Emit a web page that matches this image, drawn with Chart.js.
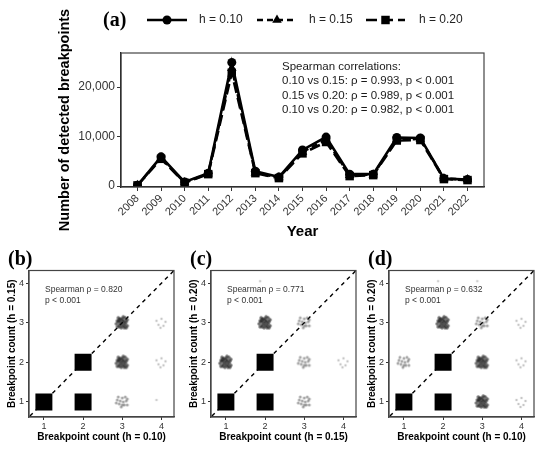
<!DOCTYPE html>
<html>
<head>
<meta charset="utf-8">
<script src="https://cdn.jsdelivr.net/npm/chart.js@4.4.1/dist/chart.umd.min.js"></script>
<style>
html, body { margin: 0; padding: 0; background: #fff; }
#wrap { position: relative; width: 550px; height: 451px; overflow: hidden; background: #fff; }
canvas { position: absolute; }
</style>
</head>
<body>
<div id="wrap">
  <canvas id="lineChart" width="550" height="250" style="left:0;top:0"></canvas>
  <canvas id="panelB" width="186" height="211" style="left:0;top:240px"></canvas>
  <canvas id="panelC" width="186" height="211" style="left:182px;top:240px"></canvas>
  <canvas id="panelD" width="186" height="211" style="left:360px;top:240px"></canvas>
</div>
<script>
// data
const YEARS = [2008, 2009, 2010, 2011, 2012, 2013, 2014, 2015, 2016, 2017, 2018, 2019, 2020, 2021, 2022];
const H010 = [150, 5900, 800, 2600, 25000, 3000, 1800, 7300, 9900, 2400, 2400, 9800, 9700, 1500, 1300];
const H015 = [130, 5700, 700, 2500, 23800, 2700, 1700, 6900, 9300, 2200, 2300, 9400, 9500, 1500, 1300];
const H020 = [120, 5500, 650, 2400, 22900, 2600, 1600, 6600, 8900, 2000, 2200, 9200, 9300, 1400, 1200];
const Y_TICKS = [0, 10000, 20000];
const SPEARMAN_LINES = [
    'Spearman correlations:',
    '0.10 vs 0.15: \u03c1 = 0.993, p < 0.001',
    '0.15 vs 0.20: \u03c1 = 0.989, p < 0.001',
    '0.10 vs 0.20: \u03c1 = 0.982, p < 0.001'
];

// breakpoint count panels: cell x, cell y, density level (4 = solid, 0 = a stray point)
const COUNT_TICKS = [1, 2, 3, 4];
const DIAG = [0.5, 4.5];
const B_X = [1, 2, 2, 3, 3, 3, 4, 4, 4];
const B_Y = [1, 2, 1, 3, 2, 1, 3, 2, 1];
const B_LEVEL = [4, 4, 4, 3, 3, 2, 1, 1, 0];
const C_X = [1, 2, 2, 1, 2, 3, 3, 3, 4, 2];
const C_Y = [1, 2, 1, 2, 3, 3, 2, 1, 2, 4];
const C_LEVEL = [4, 4, 4, 3, 3, 2, 2, 2, 1, 0];
const D_X = [1, 2, 2, 3, 3, 2, 1, 3, 4, 4, 4, 2, 3];
const D_Y = [1, 2, 1, 2, 1, 3, 2, 3, 3, 2, 1, 4, 4];
const D_LEVEL = [4, 4, 4, 3, 3, 3, 2, 2, 1, 1, 1, 0, 0];

const SANS = "'Liberation Sans', Arial, sans-serif";
const SERIF = "'Liberation Serif', 'Times New Roman', serif";

Chart.defaults.font.family = SANS;
Chart.defaults.color = '#333';

function series(values) {
    return YEARS.map((yr, i) => ({ x: yr, y: values[i] }));
}

// legend, annotation and panel box for chart (a)
var topDecor = {
    id: 'topDecor',
    afterDraw: function(chart) {
        var ctx = chart.ctx;
        var a = chart.chartArea;
        ctx.save();
        ctx.strokeStyle = '#444';
        ctx.lineWidth = 1.2;
        ctx.strokeRect(a.left, a.top, a.right - a.left, a.bottom - a.top);

        ctx.fillStyle = '#000';
        ctx.font = 'bold 20px ' + SERIF;
        ctx.textBaseline = 'middle';
        ctx.fillText('(a)', 103, 21);

        var items = [
            { x1: 147, x2: 187, dash: [], style: 'circle', r: 4.5, text: 'h = 0.10', tx: 199 },
            { x1: 257, x2: 297, dash: [6, 4], style: 'triangle', r: 5.5, text: 'h = 0.15', tx: 309 },
            { x1: 366, x2: 405, dash: [11, 5], style: 'rect', r: 6, text: 'h = 0.20', tx: 419 }
        ];
        items.forEach(function(it) {
            ctx.strokeStyle = '#000';
            ctx.fillStyle = '#000';
            ctx.lineWidth = 2.5;
            ctx.setLineDash(it.dash);
            ctx.beginPath();
            ctx.moveTo(it.x1, 20);
            ctx.lineTo(it.x2, 20);
            ctx.stroke();
            ctx.setLineDash([]);
            Chart.helpers.drawPoint(ctx, { pointStyle: it.style, radius: it.r, rotation: 0, borderWidth: 0 }, (it.x1 + it.x2) / 2, 20);
            ctx.font = '12px ' + SANS;
            ctx.fillStyle = '#222';
            ctx.fillText(it.text, it.tx, 20);
        });

        ctx.font = '11.5px ' + SANS;
        ctx.fillStyle = '#1a1a1a';
        SPEARMAN_LINES.forEach(function(line, i) {
            ctx.fillText(line, 282, 67 + i * 14.2);
        });
        ctx.restore();
    }
};

new Chart(document.getElementById('lineChart'), {
    type: 'line',
    data: {
        datasets: [{
            label: 'h = 0.10',
            data: series(H010),
            borderColor: '#000',
            backgroundColor: '#000',
            borderWidth: 2.6,
            pointStyle: 'circle',
            pointRadius: 4.5,
            pointBorderWidth: 0
        }, {
            label: 'h = 0.15',
            data: series(H015),
            borderColor: '#000',
            backgroundColor: '#000',
            borderWidth: 2.6,
            borderDash: [6, 4],
            pointStyle: 'triangle',
            pointRadius: 5.5,
            pointBorderWidth: 0
        }, {
            label: 'h = 0.20',
            data: series(H020),
            borderColor: '#000',
            backgroundColor: '#000',
            borderWidth: 2.6,
            borderDash: [11, 5],
            pointStyle: 'rect',
            pointRadius: 6,
            pointBorderWidth: 0
        }]
    },
    options: {
        responsive: false,
        animation: false,
        events: [],
        layout: { padding: { left: 56, top: 53, right: 66, bottom: 0 } },
        plugins: { legend: { display: false }, tooltip: { enabled: false } },
        scales: {
            x: {
                type: 'linear',
                min: 2007.3,
                max: 2022.7,
                afterBuildTicks: function(s) { s.ticks = YEARS.map(v => ({ value: v })); },
                afterFit: function(s) { s.height = 63; },
                ticks: {
                    autoSkip: false,
                    minRotation: 45,
                    maxRotation: 45,
                    padding: 1,
                    color: '#333',
                    font: { size: 11 },
                    callback: function(v) { return String(v); }
                },
                grid: { drawOnChartArea: false, tickLength: 4, color: '#333' },
                border: { color: '#111', width: 1.3 },
                title: {
                    display: true,
                    text: 'Year',
                    color: '#000',
                    font: { size: 15, weight: 'bold' },
                    padding: { top: 0, bottom: 9 }
                }
            },
            y: {
                min: -200,
                max: 26900,
                afterBuildTicks: function(s) { s.ticks = Y_TICKS.map(v => ({ value: v })); },
                afterFit: function(s) { s.width = 65; },
                ticks: {
                    padding: 2,
                    color: '#333',
                    font: { size: 12 },
                    callback: function(v) { return v.toLocaleString('en-US'); }
                },
                grid: { drawOnChartArea: false, tickLength: 4, color: '#333' },
                border: { color: '#111', width: 1.3 },
                title: {
                    display: true,
                    text: 'Number of detected breakpoints',
                    color: '#000',
                    font: { size: 14.5, weight: 'bold' },
                    padding: { top: 0, bottom: 0 }
                }
            }
        }
    },
    plugins: [topDecor]
});

// jittered clusters drawn as small speckle images
var SPECKLE_DOTS = [[-5, -2], [-3, 2], [0, -4], [2, 3], [4, -1], [-1, 5], [5, 3], [-4, -5], [1, 0], [3, -5],
                    [-2, -1], [0, 3], [-6, 1], [5, -3], [-2, -4], [2, -2], [-3, 4], [4, 5], [-5, 4], [1, -6],
                    [-1, 1], [3, 1], [-4, -1], [0, -2], [2, 5], [-3, -3]];

function speckle(count, alpha, r, shade) {
    var c = document.createElement('canvas');
    c.width = 18;
    c.height = 18;
    var g = c.getContext('2d');
    g.fillStyle = 'rgba(' + shade + ',' + shade + ',' + shade + ',' + alpha + ')';
    SPECKLE_DOTS.slice(0, count).forEach(function(d) {
        g.beginPath();
        g.arc(9 + d[0], 9 + d[1], r, 0, Math.PI * 2);
        g.fill();
    });
    return c;
}

var MARKS = [speckle(1, 0.35, 1.3, 120), speckle(6, 0.35, 1.2, 90), speckle(14, 0.4, 1.5, 40), speckle(26, 0.6, 1.7, 15), 'rect'];

function panelDecor(label, rho) {
    return {
        id: 'panelDecor',
        afterDraw: function(chart) {
            var ctx = chart.ctx;
            var a = chart.chartArea;
            ctx.save();
            ctx.strokeStyle = '#444';
            ctx.lineWidth = 1.2;
            ctx.strokeRect(a.left, a.top, a.right - a.left, a.bottom - a.top);
            ctx.textBaseline = 'middle';
            ctx.fillStyle = '#000';
            ctx.font = 'bold 20px ' + SERIF;
            ctx.fillText(label, a.left - 21, 20);
            ctx.fillStyle = '#333';
            ctx.font = '8.5px ' + SANS;
            ctx.fillText('Spearman \u03c1 = ' + rho, a.left + 16, 49.5);
            ctx.fillText('p < 0.001', a.left + 16, 61);
            ctx.restore();
        }
    };
}

function countAxis(title, isX) {
    return {
        type: 'linear',
        min: 0.62,
        max: 4.32,
        afterBuildTicks: function(s) { s.ticks = COUNT_TICKS.map(v => ({ value: v })); },
        afterFit: isX ? function(s) { s.height = 34; } : function(s) { s.width = 29; },
        ticks: { padding: isX ? 1 : 2, color: '#333', font: { size: 9 } },
        grid: { drawOnChartArea: false, tickLength: 3, color: '#333' },
        border: { color: '#444', width: 1.2 },
        title: {
            display: true,
            text: title,
            color: '#000',
            font: { size: 10, weight: 'bold' },
            padding: isX ? { top: 0, bottom: 7.3 } : { top: 6.4, bottom: 0 }
        }
    };
}

function createCountPanel(id, xs, ys, levels, xTitle, yTitle, label, rho) {
    var ctx = document.getElementById(id);
    if (!ctx) return;

    new Chart(ctx, {
        type: 'scatter',
        data: {
            datasets: [{
                data: xs.map((x, i) => ({ x: x, y: ys[i] })),
                pointStyle: levels.map(l => MARKS[l]),
                pointRadius: 12,
                backgroundColor: '#000',
                borderWidth: 0,
                order: 1
            }, {
                data: DIAG.map(v => ({ x: v, y: v })),
                showLine: true,
                borderColor: '#000',
                borderWidth: 1.4,
                borderDash: [4, 4],
                pointRadius: 0,
                order: 2
            }]
        },
        options: {
            responsive: false,
            animation: false,
            events: [],
            layout: { padding: { left: 0, top: 30.5, right: 10, bottom: 0 } },
            plugins: { legend: { display: false }, tooltip: { enabled: false } },
            scales: {
                x: countAxis(xTitle, true),
                y: countAxis(yTitle, false)
            }
        },
        plugins: [panelDecor(label, rho)]
    });
}

createCountPanel('panelB', B_X, B_Y, B_LEVEL, 'Breakpoint count (h = 0.10)', 'Breakpoint count (h = 0.15)', '(b)', '0.820');
createCountPanel('panelC', C_X, C_Y, C_LEVEL, 'Breakpoint count (h = 0.15)', 'Breakpoint count (h = 0.20)', '(c)', '0.771');
createCountPanel('panelD', D_X, D_Y, D_LEVEL, 'Breakpoint count (h = 0.10)', 'Breakpoint count (h = 0.20)', '(d)', '0.632');
</script>
</body>
</html>
